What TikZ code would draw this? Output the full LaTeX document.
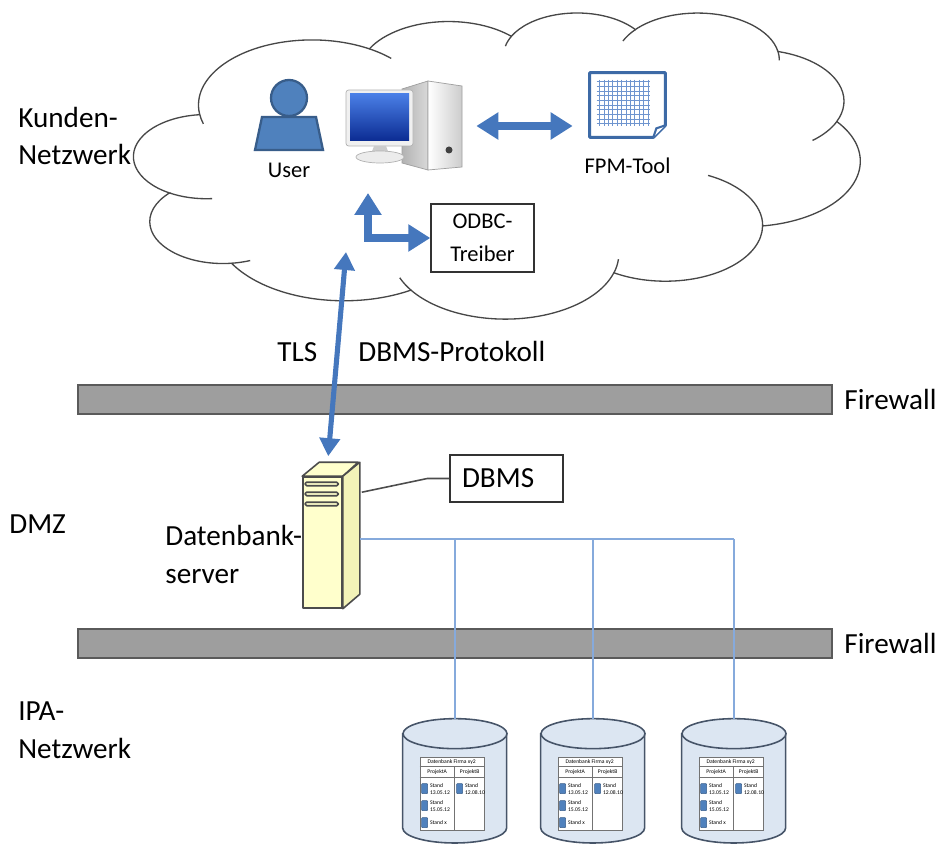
\documentclass[tikz,border=0pt]{standalone}
\usepackage{fontspec}
\setmainfont{Carlito}
\usepackage{xcolor}
\usepackage{tikz}
\usetikzlibrary{calc}
\usetikzlibrary{arrows.meta}
\usetikzlibrary{shapes}
\usetikzlibrary{positioning}

\definecolor{netblue}{HTML}{4577BD}
\definecolor{lanblue}{HTML}{86AADC}
\definecolor{fwgray}{HTML}{9E9E9E}
\definecolor{fwedge}{HTML}{5A5A5A}
\definecolor{srvyellow}{HTML}{FFFFCC}
\definecolor{srvside}{HTML}{F3F3B8}
\definecolor{dbfill}{HTML}{DCE6F2}
\definecolor{dbedge}{HTML}{465468}
\definecolor{userblue}{HTML}{4F81BD}
\definecolor{useredge}{HTML}{385D8A}
\definecolor{docedge}{HTML}{3D6AA6}
\definecolor{gridblue}{HTML}{6F95CF}
\definecolor{scrnlight}{HTML}{4A7FE6}
\definecolor{scrndark}{HTML}{0B2B92}

\newcommand{\bigfont}{\fontsize{16.6}{21.5}\selectfont}
\newcommand{\smallfont}{\fontsize{12.8}{18.5}\selectfont}
\newcommand{\tinyfont}{\fontsize{3.2}{3.9}\selectfont}

% one arc of the cloud: x radius, y radius, start angle, sweep (seen angles)
\newcommand{\cloudarc}[4]{arc[x radius=#1, y radius=#2,
  start angle={atan2((#1)*sin(#3),(#2)*cos(#3))},
  delta angle={mod(atan2((#1)*sin((#3)+(#4)),(#2)*cos((#3)+(#4)))-atan2((#1)*sin(#3),(#2)*cos(#3))+720,360)}]}
% same arc, running backwards
\newcommand{\cloudback}[4]{arc[x radius=#1, y radius=#2,
  start angle={atan2((#1)*sin(#3),(#2)*cos(#3))},
  delta angle={-mod(atan2((#1)*sin(#3),(#2)*cos(#3))-atan2((#1)*sin((#3)-(#4)),(#2)*cos((#3)-(#4)))+720,360)}]}

\tikzset{
  lbl/.style={inner sep=0pt, font=\bigfont, align=left},
  smalltxt/.style={inner sep=0pt, font=\smallfont, align=center},
  tinytxt/.style={inner sep=0pt, font=\tinyfont, align=left},
  firewall/.style={rectangle, draw=fwedge, fill=fwgray, line width=1.3pt,
    minimum width=15.08cm, minimum height=0.57cm, inner sep=0pt},
  cloudline/.style={draw=black!72, line width=0.75pt},
  textbox/.style={rectangle, draw=black!80, line width=0.8pt},
  iconbox/.style={rectangle, inner sep=0pt},
  bluearrow/.style={draw=netblue, line width=4.4pt,
    {Triangle[length=0.44cm, width=0.52cm]}-{Triangle[length=0.44cm, width=0.52cm]}},
  tlsarrow/.style={draw=netblue, line width=2.9pt,
    {Triangle[length=0.36cm, width=0.4cm]}-{Triangle[length=0.36cm, width=0.4cm]}},
  lan/.style={draw=lanblue, line width=1.1pt},
  tagline/.style={draw=black!70, line width=0.9pt},
  srvface/.style={draw=black!70, line width=0.9pt, fill=srvyellow, line join=round},
  dbbox/.style={rectangle, inner sep=0pt, minimum width=2.08cm, minimum height=2.48cm},
  dbshape/.style={draw=dbedge, fill=dbfill, line width=0.9pt},
  dbtable/.style={rectangle, draw=black!55, fill=white, line width=0.4pt,
    minimum width=1.28cm, minimum height=1.46cm, inner sep=0pt},
  flag/.style={fill=userblue, draw=useredge, line width=0.3pt, rounded corners=0.4pt},
}

\begin{document}
\begin{tikzpicture}[x=0.02cm, y=-0.02cm]
\useasboundingbox (0, 0) rectangle (940, 844);

% firewalls
\node [firewall] (fw1) at (455, 399.5) {};
\node [firewall] (fw2) at (455, 643.5) {};
\node [lbl, right=0.22cm of fw1] (fwlbl1) {Firewall};
\node [lbl, right=0.22cm of fw2] (fwlbl2) {Firewall};

% customer network cloud
\begin{scope}[shift={(134, 12)}, xscale=726/432, yscale=306/432]
\draw [cloudline, fill=white] (39.00, 143.70) coordinate (j0)
  \cloudarc{67.53}{91.90}{-190.4875}{123.7805} coordinate (j1)
  \cloudarc{53.33}{72.67}{-144.1024}{89.9452} coordinate (j2)
  \cloudarc{43.65}{59.45}{-145.8079}{99.7230} coordinate (j3)
  \cloudarc{48.57}{65.95}{-130.9861}{117.2417} coordinate (j4)
  \cloudarc{53.33}{72.73}{-78.7089}{109.0269} coordinate (j5)
  \cloudarc{67.75}{92.20}{-46.2673}{130.2690} coordinate (j6)
  \cloudarc{57.85}{78.67}{0.6250}{114.0333} coordinate (j7)
  \cloudarc{67.52}{92.15}{22.4516}{115.1726} coordinate (j8)
  \cloudarc{77.20}{105.43}{66.2426}{75.7110} coordinate (j9)
  \cloudarc{43.60}{59.18}{-274.9421}{146.7356} coordinate (j10)
  \cloudarc{43.45}{59.45}{-246.8285}{152.5189} -- cycle;
\draw [cloudline]
  (j10) \cloudback{43.45}{59.45}{113.1715}{26.4295}
  (j9) \cloudback{43.60}{59.18}{85.0579}{11.4475}
  (j8) \cloudarc{67.52}{92.15}{137.6242}{14.0811}
  (j7) \cloudback{67.52}{92.15}{22.4516}{15.9983}
  (j6) \cloudback{57.85}{78.67}{0.6250}{70.9174}
  (j5) \cloudarc{53.33}{72.73}{30.3180}{27.7515}
  (j4) \cloudarc{48.57}{65.95}{-13.7444}{14.8589}
  (j3) \cloudback{48.57}{65.95}{-130.9861}{18.1954}
  (j2) \cloudback{43.65}{59.45}{-145.8079}{17.6864}
  (j1) \cloudarc{67.53}{91.90}{-66.7070}{12.3194}
  (j0) \cloudback{67.53}{91.90}{169.5125}{11.8582};
\end{scope}

% zones
\node [lbl, anchor=base west] (kunden) at (18, 165) {Kunden-\\Netzwerk};
\node [lbl, anchor=base west] (dmz) at (9, 533) {DMZ};
\node [lbl, anchor=base west] (ipa) at (18, 758) {IPA-\\Netzwerk};

% user
\draw [fill=userblue, draw=useredge, line width=1.3pt] (262, 117) -- (316, 117) -- (323, 150) -- (255, 150) -- cycle;
\draw [fill=userblue, draw=useredge, line width=1.3pt] (289, 98) circle (18);
\node [smalltxt] (user) at (289, 170) {User};

% computer
\node [iconbox, minimum width=2.36cm, minimum height=1.76cm] (pc) at (404, 126) {};
\shadedraw [left color=gray!60, right color=gray!30, draw=gray!75] (402, 89) -- (428, 81) -- (428, 170) -- (402, 163) -- cycle;
\shadedraw [left color=white, right color=gray!40, draw=gray!75] (428, 81) -- (462, 86) -- (462, 167) -- (428, 170) -- cycle;
\fill [black!75] (449, 150) circle (3.5);
\draw [gray!60, fill=gray!12, rounded corners=1.5pt] (346, 90) rectangle (413, 146);
\shade [top color=scrnlight, bottom color=scrndark] (350, 94) rectangle (409, 141);
\fill [gray!40] (374, 146) -- (386, 146) -- (389, 154) -- (371, 154) -- cycle;
\draw [gray!60, fill=gray!15] (380, 157) ellipse [x radius=24, y radius=6];

% FPM tool
\node [iconbox, minimum width=1.5cm, minimum height=1.28cm] (fpm) at (627.5, 105) {};
\draw [docedge, line width=1.7pt, fill=white, line join=round] (fpm.north west) -- (fpm.north east)
  -- ($(fpm.south east)+(0, -12)$) -- ($(fpm.south east)+(-12, 0)$) -- (fpm.south west) -- cycle;
\foreach \k in {0, ..., 11}
  \draw [gridblue, line width=0.6pt] ($(fpm.north west)+(10+4.4*\k, 7)$) -- ++(0, 46);
\foreach \k in {0, ..., 9}
  \draw [gridblue, line width=0.6pt] ($(fpm.north west)+(7, 9+4.7*\k)$) -- ++(53, 0);
\draw [docedge, line width=1.2pt, fill=white] ($(fpm.south east)+(0, -12)$) -- ($(fpm.south east)+(-9, -9)$) -- ($(fpm.south east)+(-12, 0)$);
\node [smalltxt, below=0.4cm of fpm] (fpmlbl) {FPM-Tool};

% ODBC driver
\node [textbox, font=\smallfont, align=center, minimum width=2.06cm, minimum height=1.36cm, inner sep=0pt] (odbc) at (482.5, 238) {ODBC-\\Treiber};

% database server
\node [srvface, minimum width=0.78cm, minimum height=2.62cm, inner sep=0pt] (server) at (322.5, 542.5) {};
\draw [srvface] (server.north west) -- ++(17, -14) -- ++(39, 0) -- (server.north east) -- cycle;
\draw [srvface, fill=srvside] (server.north east) -- ++(17, -14) -- ++(0, 132) -- (server.south east) -- cycle;
\foreach \dy in {6, 16, 26}
  \draw [srvface, rounded corners=0.8pt] ($(server.north west)+(3, \dy)$) rectangle ++(33, 3.5);
\node [lbl, anchor=base west] (srvlbl) at (165, 583) {Datenbank-\\server};

\node [textbox, font=\bigfont, text width=1.78cm, inner xsep=0.24cm, minimum height=0.94cm, align=left] (dbms) at (506.5, 478.5) {DBMS};
\draw [tagline] ($(server.north east)+(19, 16)$) -- ($(dbms.west)+(-22, 0)$) -- (dbms.west);

% databases
\foreach \i/\cx in {1/455, 2/593, 3/734} {
  \node [dbbox] (db\i) at (\cx, 781) {};
  \draw [dbshape] ($(db\i.west)+(0, -47)$) -- ($(db\i.west)+(0, 47)$)
    arc [start angle=180, end angle=0, x radius=52, y radius=15] -- ++(0, -94) -- cycle;
  \draw [dbshape] ($(db\i.north)+(0, 15)$) ellipse [x radius=52, y radius=15];
  \node [dbtable] (tab\i) at ($(db\i)+(-3, 12.5)$) {};
  \draw [black!55, line width=0.4pt] ($(tab\i.north west)+(0, 10)$) -- ++(64, 0)
    ($(tab\i.north west)+(0, 21)$) -- ++(64, 0)
    ($(tab\i.north west)+(35, 10)$) -- ++(0, 63);
  \node [tinytxt] at ($(tab\i.north west)+(32, 5)$) {Datenbank Firma xy2};
  \node [tinytxt] at ($(tab\i.north west)+(17.5, 15.5)$) {ProjektA};
  \node [tinytxt] at ($(tab\i.north west)+(50, 15.5)$) {ProjektB};
  \foreach \dy/\txt in {27/{Stand\\13.05.12}, 44/{Stand\\15.05.12}, 61/{Stand x}} {
    \draw [flag] ($(tab\i.north west)+(2, \dy)$) rectangle ++(6, 10);
    \node [tinytxt, anchor=west] at ($(tab\i.north west)+(10, \dy+5)$) {\txt};
  }
  \draw [flag] ($(tab\i.north west)+(37, 27)$) rectangle ++(6, 10);
  \node [tinytxt, anchor=west] at ($(tab\i.north west)+(45, 32)$) {Stand\\12.08.10};
}

% network in the DMZ
\coordinate (lanstart) at ($(server.north east)+(17, 63)$);
\draw [lan] (lanstart) -- (lanstart -| db3.north);
\foreach \i in {1, 2, 3}
  \draw [lan] (lanstart -| db\i.north) -- (db\i.north);

% arrows
\coordinate (pcfoot) at (368, 193);
\coordinate (tlsend) at (346, 252);
\coordinate (srvtop) at ($(server.north west)+(26, -20)$);
\draw [bluearrow, shorten <=0.26cm, shorten >=0.34cm] (pc.east) -- (pc.east -| fpm.west);
\draw [bluearrow] (pcfoot) |- (odbc.west);
\draw [tlsarrow] (tlsend) -- (srvtop);
\node [lbl, anchor=base west] (tls) at (277, 362) {TLS};
\node [lbl, anchor=base west] (proto) at (358, 362) {DBMS-Protokoll};
\end{tikzpicture}
\end{document}
